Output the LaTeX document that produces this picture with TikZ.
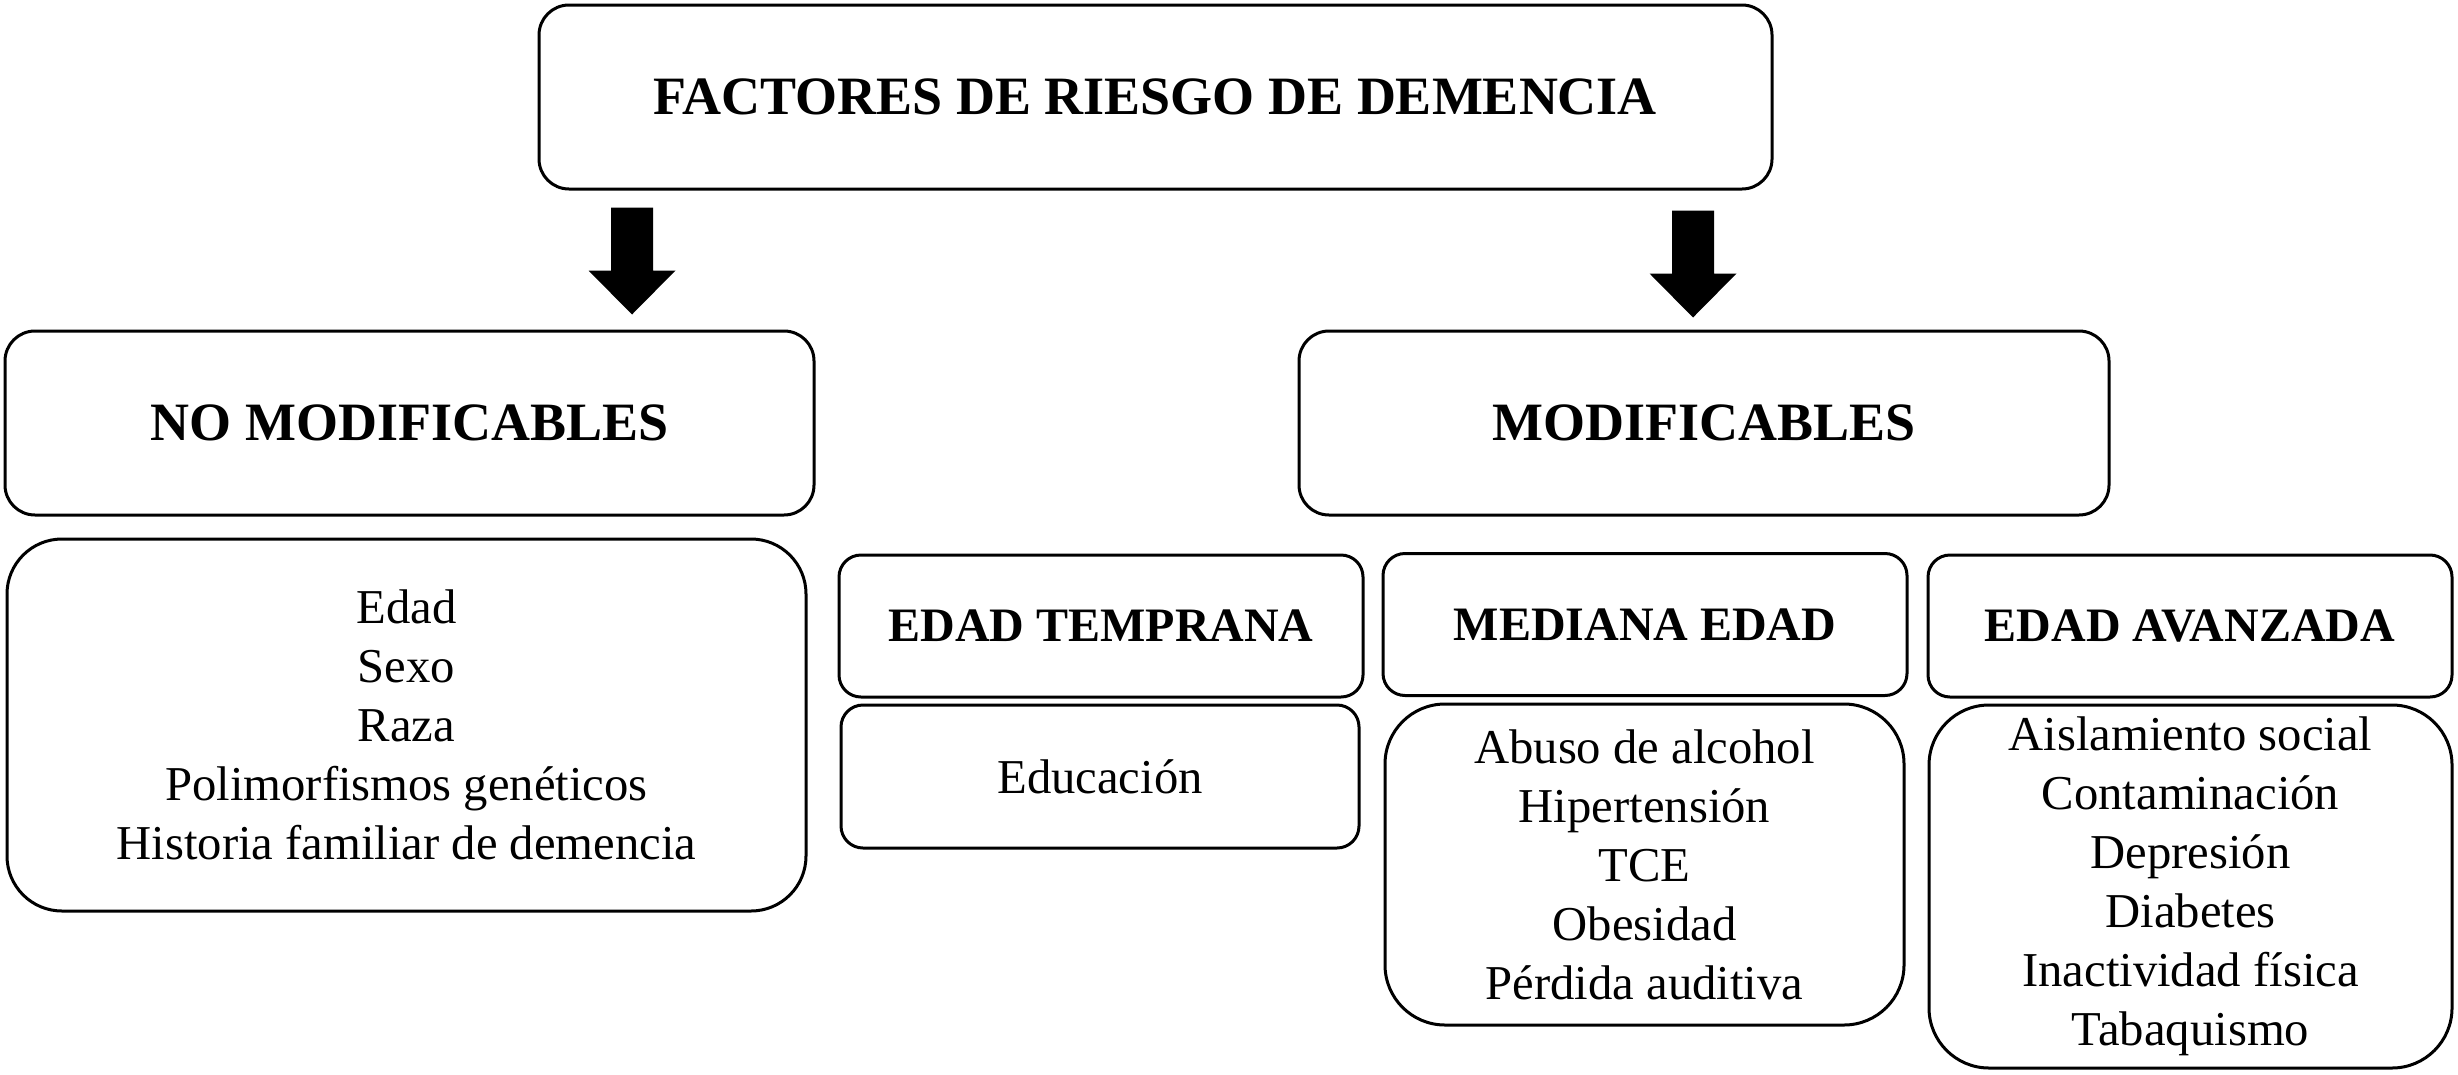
\documentclass[tikz,border=0pt]{standalone}
\usepackage{fontspec}
\setmainfont{Liberation Serif}
\usetikzlibrary{calc}
\newdimen\px \px=0.3pt
\newcommand\blockarrow[2]{\fill ($(#1)+(-21,0)$) -- ($(#1)+(21,0)$) -- ($(#2)+(21,-44)$) -- ($(#2)+(43.5,-44)$) -- (#2) -- ($(#2)+(-43.5,-44)$) -- ($(#2)+(-21,-44)$) -- cycle;}
\tikzset{
  base/.style={draw, line width=0.9pt, rectangle, inner sep=0pt, align=center},
  mainbox/.style={base, rounded corners=30\px, minimum height=184\px, font=\bfseries\fontsize{16.2pt}{19pt}\selectfont},
  headbox/.style={base, rounded corners=22\px, minimum width=524\px, minimum height=142\px, font=\bfseries\fontsize{14.4pt}{17pt}\selectfont},
  listbox/.style={base, font=\fontsize{14.6pt}{17.7pt}\selectfont}
}
\begin{document}
\begin{tikzpicture}[x=0.3pt,y=-0.3pt]
\useasboundingbox[fill=white] (0,0) rectangle (2458,1074);
\node[mainbox, minimum width=1233\px] (top) at (1155.5,97) {FACTORES DE RIESGO DE DEMENCIA};
\node[mainbox, minimum width=809\px] (nomod) at (409.5,423) {NO MODIFICABLES};
\node[mainbox, minimum width=810\px] (mod) at (1704,423) {MODIFICABLES};
\node[listbox, rounded corners=55\px, minimum width=799\px, minimum height=372\px] (nmlist) at (406.5,725)
  {Edad\\Sexo\\Raza\\Polimorfismos genéticos\\Historia familiar de demencia};
\node[headbox] (temprana) at (1101,626) {EDAD TEMPRANA};
\node[listbox, rounded corners=22\px, minimum width=518\px, minimum height=143\px] (educ) at (1100,776.5) {Educación};
\node[headbox] (mediana) at (1645,624.5) {MEDIANA EDAD};
\node[listbox, rounded corners=60\px, minimum width=519\px, minimum height=321\px] (medlist) at (1644.5,864.5)
  {Abuso de alcohol\\Hipertensión\\TCE\\Obesidad\\Pérdida auditiva};
\node[headbox] (avanzada) at (2190,626) {EDAD AVANZADA};
\node[listbox, rounded corners=60\px, minimum width=523\px, minimum height=363\px] (avlist) at (2190.5,886.5)
  {Aislamiento social\\Contaminación\\Depresión\\Diabetes\\Inactividad física\\Tabaquismo};
\coordinate (ax1) at (632,0);
\coordinate (ax2) at (1693,0);
\coordinate (a1s) at ($(top.south -| ax1)+(0,17)$);
\coordinate (a1e) at ($(nomod.north -| ax1)+(0,-15)$);
\coordinate (a2s) at ($(top.south -| ax2)+(0,20)$);
\coordinate (a2e) at ($(mod.north -| ax2)+(0,-12)$);
\blockarrow{a1s}{a1e}
\blockarrow{a2s}{a2e}
\end{tikzpicture}
\end{document}
